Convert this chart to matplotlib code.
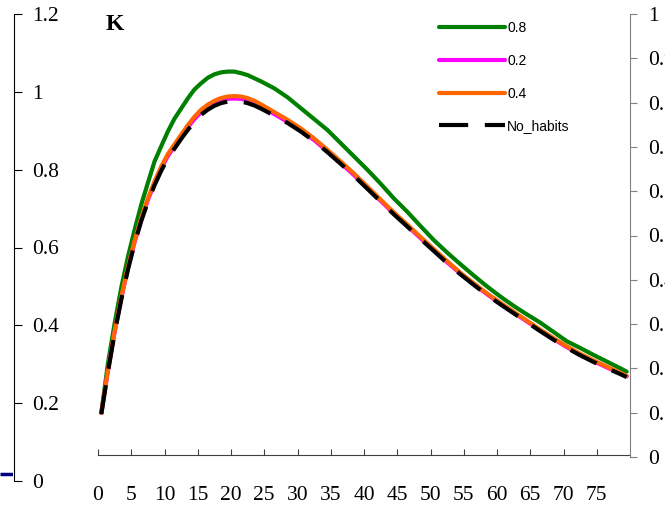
import numpy as np
import matplotlib
matplotlib.use('Agg')
import matplotlib.pyplot as plt

# periods (Excel category index) and series
periods = list(range(0, 25)) + list(range(26, 79, 2)) + [79]

k_08 = [0.175, 0.303, 0.405, 0.497, 0.576, 0.645, 0.710, 0.766, 0.821, 0.860,
        0.898, 0.931, 0.957, 0.983, 1.006, 1.022, 1.036, 1.045, 1.050, 1.052,
        1.052, 1.048, 1.043, 1.035, 1.027,
        1.009, 0.986, 0.958, 0.930, 0.902, 0.868, 0.834, 0.800, 0.764, 0.726,
        0.692, 0.655, 0.619, 0.587, 0.557, 0.528, 0.500, 0.474, 0.450, 0.428,
        0.407, 0.383, 0.359, 0.342, 0.324, 0.307, 0.290, 0.281]

k_02 = [0.175, 0.284, 0.383, 0.470, 0.547, 0.614, 0.672, 0.722, 0.765, 0.803,
        0.835, 0.860, 0.885, 0.909, 0.930, 0.948, 0.961, 0.971, 0.978, 0.982,
        0.983, 0.982, 0.978, 0.971, 0.962,
        0.943, 0.923, 0.901, 0.876, 0.847, 0.817, 0.786, 0.753, 0.720, 0.687,
        0.656, 0.624, 0.593, 0.562, 0.533, 0.506, 0.480, 0.456, 0.433, 0.410,
        0.387, 0.365, 0.344, 0.325, 0.308, 0.292, 0.277, 0.269]

k_04 = [0.175, 0.285, 0.385, 0.472, 0.550, 0.617, 0.676, 0.726, 0.770, 0.808,
        0.840, 0.865, 0.890, 0.914, 0.936, 0.954, 0.967, 0.977, 0.984, 0.988,
        0.989, 0.988, 0.984, 0.977, 0.968,
        0.948, 0.928, 0.906, 0.880, 0.851, 0.821, 0.790, 0.757, 0.723, 0.690,
        0.659, 0.627, 0.596, 0.565, 0.535, 0.508, 0.482, 0.458, 0.435, 0.412,
        0.389, 0.367, 0.346, 0.327, 0.310, 0.294, 0.278, 0.270]

k_nohab = [0.172, 0.281, 0.380, 0.466, 0.543, 0.610, 0.668, 0.717, 0.760, 0.797,
           0.829, 0.854, 0.879, 0.902, 0.923, 0.941, 0.954, 0.964, 0.971, 0.975,
           0.976, 0.975, 0.971, 0.965, 0.957,
           0.939, 0.920, 0.898, 0.873, 0.845, 0.815, 0.784, 0.751, 0.718, 0.685,
           0.654, 0.622, 0.591, 0.560, 0.531, 0.504, 0.478, 0.454, 0.431, 0.408,
           0.385, 0.363, 0.342, 0.323, 0.306, 0.290, 0.275, 0.267]

x_ticks = list(range(0, 80, 5))
left_ticks = [0, 0.2, 0.4, 0.6, 0.8, 1.0, 1.2]
left_labels = ['0', '0.2', '0.4', '0.6', '0.8', '1', '1.2']
right_ticks = [0, 0.1, 0.2, 0.3, 0.4, 0.5, 0.6, 0.7, 0.8, 0.9, 1.0]
right_labels = ['0', '0.1', '0.2', '0.3', '0.4', '0.5', '0.6', '0.7', '0.8', '0.9', '1']

# neighbouring chart's series that pokes in at the left edge
prev_x = [0, 1]
prev_vals = [0.018, 0.018]

W, H = 665, 508
serif = 'Liberation Serif'
sans = 'Liberation Sans'
tick_fs = 15.5


def fx(px):
    return px / W


def fy(px):
    return 1 - px / H


fig = plt.figure(figsize=(W / 100, H / 100), dpi=100)

# main plot area (same vertical scale as the 0..1.2 axis on the left)
ax = fig.add_axes([fx(98), fy(481), fx(630) - fx(98), fy(14) - fy(481)])
ax.set_xlim(0, 80)
ax.set_ylim(0, 1.2)
for s in ['top', 'left', 'right']:
    ax.spines[s].set_visible(False)
ax.spines['bottom'].set_position(('axes', 26 / 467))
ax.spines['bottom'].set_color('#404040')
ax.set_xticks(x_ticks)
ax.set_xticklabels([str(t) for t in x_ticks], fontfamily=serif, fontsize=tick_fs)
ax.tick_params(axis='x', direction='in', length=4, color='#404040', pad=22)
ax.set_yticks([])

xs = np.array(periods) + 0.5
lw = 3
ax.plot(xs, k_08, color='#008000', lw=lw, label='0.8', solid_capstyle='round')
ax.plot(xs, k_02, color='#FF00FF', lw=lw, label='0.2', solid_capstyle='round')
ax.plot(xs, k_04, color='#FF6600', lw=lw, label='0.4', solid_capstyle='round')
ax.plot(xs, k_nohab, color='black', lw=lw, dashes=(7, 4), label='No_habits')

leg = ax.legend(loc='upper left', bbox_to_anchor=(fx(439), fy(21)),
                bbox_transform=fig.transFigure, frameon=False,
                prop={'family': sans, 'size': 10}, handlelength=4.75,
                handletextpad=0.15, labelspacing=1.35, borderpad=0,
                borderaxespad=0)

# right axis 0..1 (gray)
axR = fig.add_axes([fx(98), fy(457), fx(630) - fx(98), fy(14) - fy(457)])
axR.patch.set_visible(False)
axR.set_ylim(0, 1)
for s in ['top', 'left', 'bottom']:
    axR.spines[s].set_visible(False)
axR.spines['right'].set_color('#808080')
axR.set_xticks([])
axR.yaxis.tick_right()
axR.set_yticks(right_ticks)
axR.set_yticklabels(right_labels, fontfamily=serif, fontsize=tick_fs)
axR.tick_params(axis='y', direction='out', length=5, color='#808080', pad=8)

# left axis 0..1.2 (belongs to the chart on the left)
axL = fig.add_axes([fx(14), fy(481), fx(40), fy(14) - fy(481)])
axL.patch.set_visible(False)
axL.set_ylim(0, 1.2)
for s in ['top', 'left', 'bottom']:
    axL.spines[s].set_visible(False)
axL.spines['right'].set_position(('axes', 0))
axL.spines['right'].set_color('black')
axL.set_xticks([])
axL.yaxis.tick_right()
axL.set_yticks(left_ticks)
axL.set_yticklabels(left_labels, fontfamily=serif, fontsize=tick_fs)
axL.tick_params(axis='y', direction='out', length=6, pad=7)

axP = fig.add_axes([0, fy(481), fx(13), fy(14) - fy(481)])
axP.set_xlim(0, 1)
axP.set_ylim(0, 1.2)
axP.axis('off')
axP.plot(prev_x, prev_vals, color='#000080', lw=2.5, solid_capstyle='butt')

fig.text(fx(106), fy(24), 'K', fontfamily=serif, fontweight='bold',
         fontsize=17, va='center', ha='left')

fig.savefig('out.png', dpi=100)
